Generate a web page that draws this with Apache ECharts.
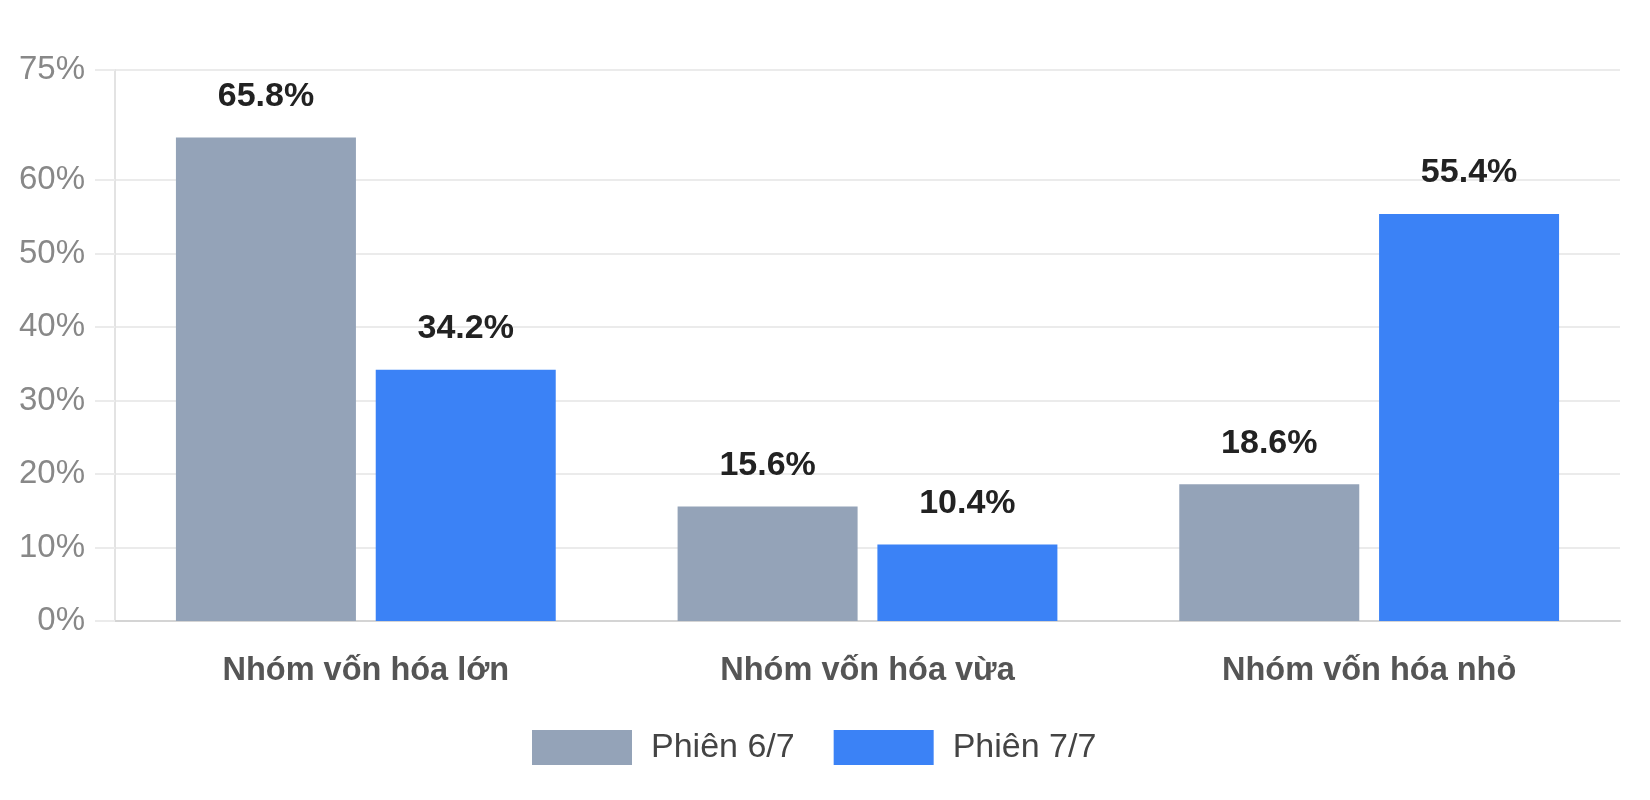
<!DOCTYPE html>
<html>
<head>
<meta charset="utf-8">
<script src="https://cdn.jsdelivr.net/npm/echarts@6/dist/echarts.min.js"></script>
<style>
  html, body { margin: 0; padding: 0; background: #fff; }
  #main { width: 1650px; height: 800px; }
</style>
</head>
<body>
<div id="main"></div>
<script>
// du lieu bieu do
var categories = ['Nhóm vốn hóa lớn', 'Nhóm vốn hóa vừa', 'Nhóm vốn hóa nhỏ'];
var seriesNames = ['Phiên 6/7', 'Phiên 7/7'];
var phien67 = [65.8, 15.6, 18.6];
var phien77 = [34.2, 10.4, 55.4];
var yTicks = [0, 10, 20, 30, 40, 50, 60, 75];

var font = 'Liberation Sans, Arial, sans-serif';
var chart = echarts.init(document.getElementById('main'));

function barLabel() {
  return {
    show: true,
    position: 'top',
    distance: 24,
    fontFamily: font,
    fontSize: 34,
    fontWeight: 'bold',
    color: '#222',
    formatter: function (p) { return p.value.toFixed(1) + '%'; }
  };
}

var option = {
  backgroundColor: '#fff',
  animation: false,
  color: ['#94a3b8', '#3b82f6'],
  grid: {
    left: 115,
    right: 30,
    top: 70,
    bottom: 179
  },
  legend: {
    data: seriesNames,
    left: 532,
    top: 730,
    padding: 0,
    icon: 'rect',
    itemWidth: 100,
    itemHeight: 35,
    itemGap: 39,
    textStyle: {
      fontFamily: font,
      fontSize: 34,
      color: '#444',
      padding: [0, 0, 0, 14]
    }
  },
  xAxis: {
    type: 'category',
    data: categories,
    axisLine: { lineStyle: { color: '#d4d4d4', width: 2 } },
    axisTick: { show: false },
    axisLabel: {
      margin: 34,
      fontFamily: font,
      fontSize: 32.5,
      fontWeight: 'bold',
      color: '#555'
    }
  },
  yAxis: {
    type: 'value',
    min: 0,
    max: 75,
    axisLine: { show: true, lineStyle: { color: '#e3e3e3', width: 2 } },
    axisTick: {
      show: true,
      length: 20,
      customValues: yTicks,
      lineStyle: { color: '#ebebeb', width: 2 }
    },
    splitLine: { show: true, lineStyle: { color: '#ebebeb', width: 2 } },
    axisLabel: {
      margin: 30,
      customValues: yTicks,
      fontFamily: font,
      fontSize: 33,
      color: '#888',
      formatter: '{value}%'
    }
  },
  series: [
    {
      name: seriesNames[0],
      type: 'bar',
      data: phien67,
      barWidth: 180,
      barGap: '11%',
      label: barLabel()
    },
    {
      name: seriesNames[1],
      type: 'bar',
      data: phien77,
      barWidth: 180,
      barGap: '11%',
      label: barLabel()
    }
  ]
};

chart.setOption(option);
</script>
</body>
</html>
